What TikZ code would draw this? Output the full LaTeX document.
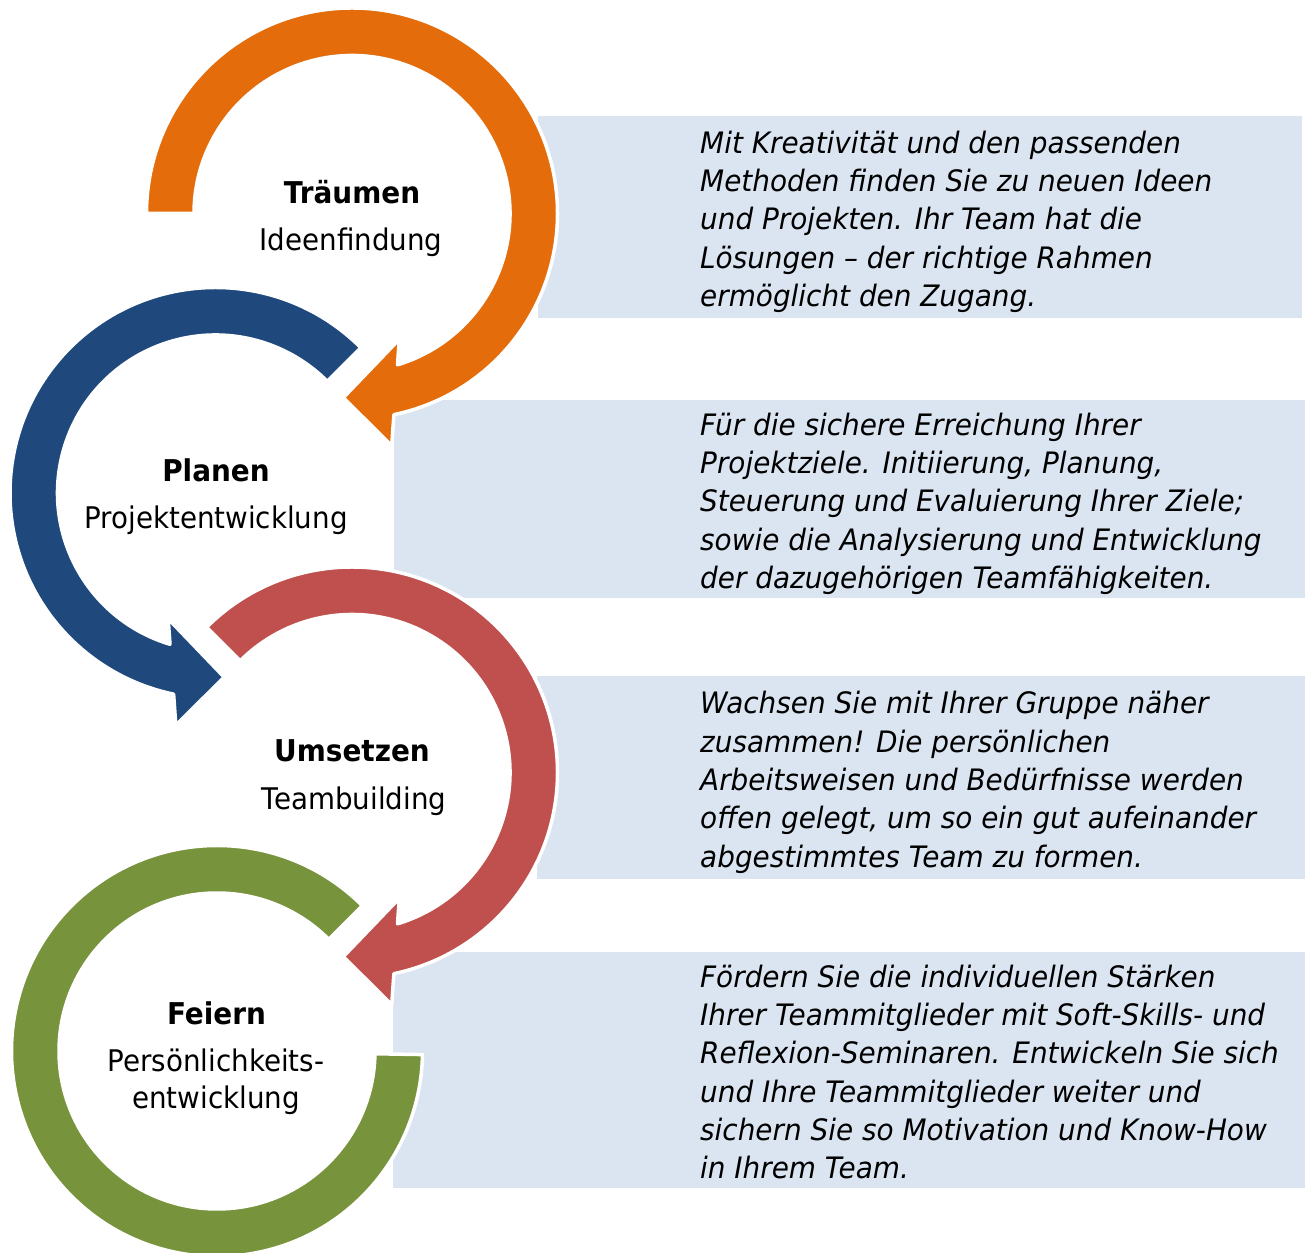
\documentclass[tikz,border=0pt]{standalone}
\usepackage{fontspec}
\setmainfont{DejaVu Sans}
\newfontfamily\boxfont{DejaVu Sans}[FakeStretch=0.945]
\newfontfamily\labelfont{DejaVu Sans}[FakeStretch=0.93]
\definecolor{cOrange}{HTML}{E46C0A}
\definecolor{cBlue}{HTML}{1F497D}
\definecolor{cRed}{HTML}{C0504D}
\definecolor{cGreen}{HTML}{77933C}
\definecolor{boxblue}{HTML}{DBE5F1}
\begin{document}
\begin{tikzpicture}[x=1pt,y=1pt,
  ring/.style={draw=white, line width=3.5pt, line join=round},
  infobox/.style={fill=boxblue},
  infotext/.style={anchor=base west, inner sep=0pt, font=\boxfont\itshape\fontsize{29.5}{38.3}\selectfont},
  title/.style={anchor=base, inner sep=0pt, font=\labelfont\bfseries\fontsize{30}{36}\selectfont},
  subtitle/.style={anchor=base, inner sep=0pt, font=\labelfont\fontsize{29.8}{36}\selectfont}]
\useasboundingbox (0,0) rectangle (1305,1252);

% text boxes
\fill[infobox] (538,934) rectangle (1302,1136);
\fill[infobox] (394,654) rectangle (1305,852);
\fill[infobox] (537,373) rectangle (1305,576);
\fill[infobox] (393,64) rectangle (1305,300);

% orange ring (Traeumen)
\begin{scope}[shift={(352,1038.5)}]
\filldraw[ring, fill=cOrange] (180:158) -- (180:205.5)
  arc[start angle=180, end angle=-78.24, radius=205.5]
  -- (39.7,-232.2) -- (-8.7,-184.2) -- (47.3,-125.8) -- (-73.26:158)
  arc[start angle=-73.26, end angle=180, radius=158] -- cycle;
\end{scope}

% blue ring (Planen)
\begin{scope}[shift={(215.5,759)}]
\filldraw[ring, fill=cBlue] (45:158) -- (45:205.5)
  arc[start angle=45, end angle=258.24, radius=205.5]
  -- (-39.7,-232.2) -- (8.7,-184.2) -- (-47.3,-125.8) -- (253.26:158)
  arc[start angle=253.26, end angle=45, radius=158] -- cycle;
\end{scope}

% red ring (Umsetzen)
\begin{scope}[shift={(352,479.5)}]
\filldraw[ring, fill=cRed] (135:158) -- (135:205.5)
  arc[start angle=135, end angle=-78.24, radius=205.5]
  -- (39.7,-232.2) -- (-8.7,-184.2) -- (47.3,-125.8) -- (-73.26:158)
  arc[start angle=-73.26, end angle=135, radius=158] -- cycle;
\end{scope}

% green ring (Feiern)
\begin{scope}[shift={(217,201)}]
\filldraw[ring, fill=cGreen] (45:158) -- (45:205.5)
  arc[start angle=45, end angle=359, radius=205.5]
  -- (359:158)
  arc[start angle=359, end angle=45, radius=158] -- cycle;
\end{scope}

% ring labels
\node[title] (n1) at (352,1048.7) {Träumen};
\node[subtitle] (s1) at (351,1001.3) {Ideenfindung};
\node[title] (n2) at (216,770.7) {Planen};
\node[subtitle] (s2) at (216,723.3) {Projektentwicklung};
\node[title] (n3) at (352,490.2) {Umsetzen};
\node[subtitle] (s3) at (354,442.8) {Teambuilding};
\node[title] (n4) at (216.5,227.7) {Feiern};
\node[subtitle] (s4a) at (216,180.3) {Persönlichkeits-};
\node[subtitle] (s4b) at (216,143.3) {entwicklung};

% box texts
\node[infotext] (t1) at (700,1098.7) {\vtop{%
  \hbox{Mit Kreativität und den passenden}%
  \hbox{Methoden finden Sie zu neuen Ideen}%
  \hbox{und Projekten. Ihr Team hat die}%
  \hbox{Lösungen – der richtige Rahmen}%
  \hbox{ermöglicht den Zugang.}}};
\node[infotext] (t2) at (700,816.6) {\vtop{%
  \hbox{Für die sichere Erreichung Ihrer}%
  \hbox{Projektziele. Initiierung, Planung,}%
  \hbox{Steuerung und Evaluierung Ihrer Ziele;}%
  \hbox{sowie die Analysierung und Entwicklung}%
  \hbox{der dazugehörigen Teamfähigkeiten.}}};
\node[infotext] (t3) at (700,538.1) {\vtop{%
  \hbox{Wachsen Sie mit Ihrer Gruppe näher}%
  \hbox{zusammen! Die persönlichen}%
  \hbox{Arbeitsweisen und Bedürfnisse werden}%
  \hbox{offen gelegt, um so ein gut aufeinander}%
  \hbox{abgestimmtes Team zu formen.}}};
\node[infotext] (t4) at (700,264.7) {\vtop{%
  \hbox{Fördern Sie die individuellen Stärken}%
  \hbox{Ihrer Teammitglieder mit Soft-Skills- und}%
  \hbox{Reflexion-Seminaren. Entwickeln Sie sich}%
  \hbox{und Ihre Teammitglieder weiter und}%
  \hbox{sichern Sie so Motivation und Know-How}%
  \hbox{in Ihrem Team.}}};
\end{tikzpicture}
\end{document}
